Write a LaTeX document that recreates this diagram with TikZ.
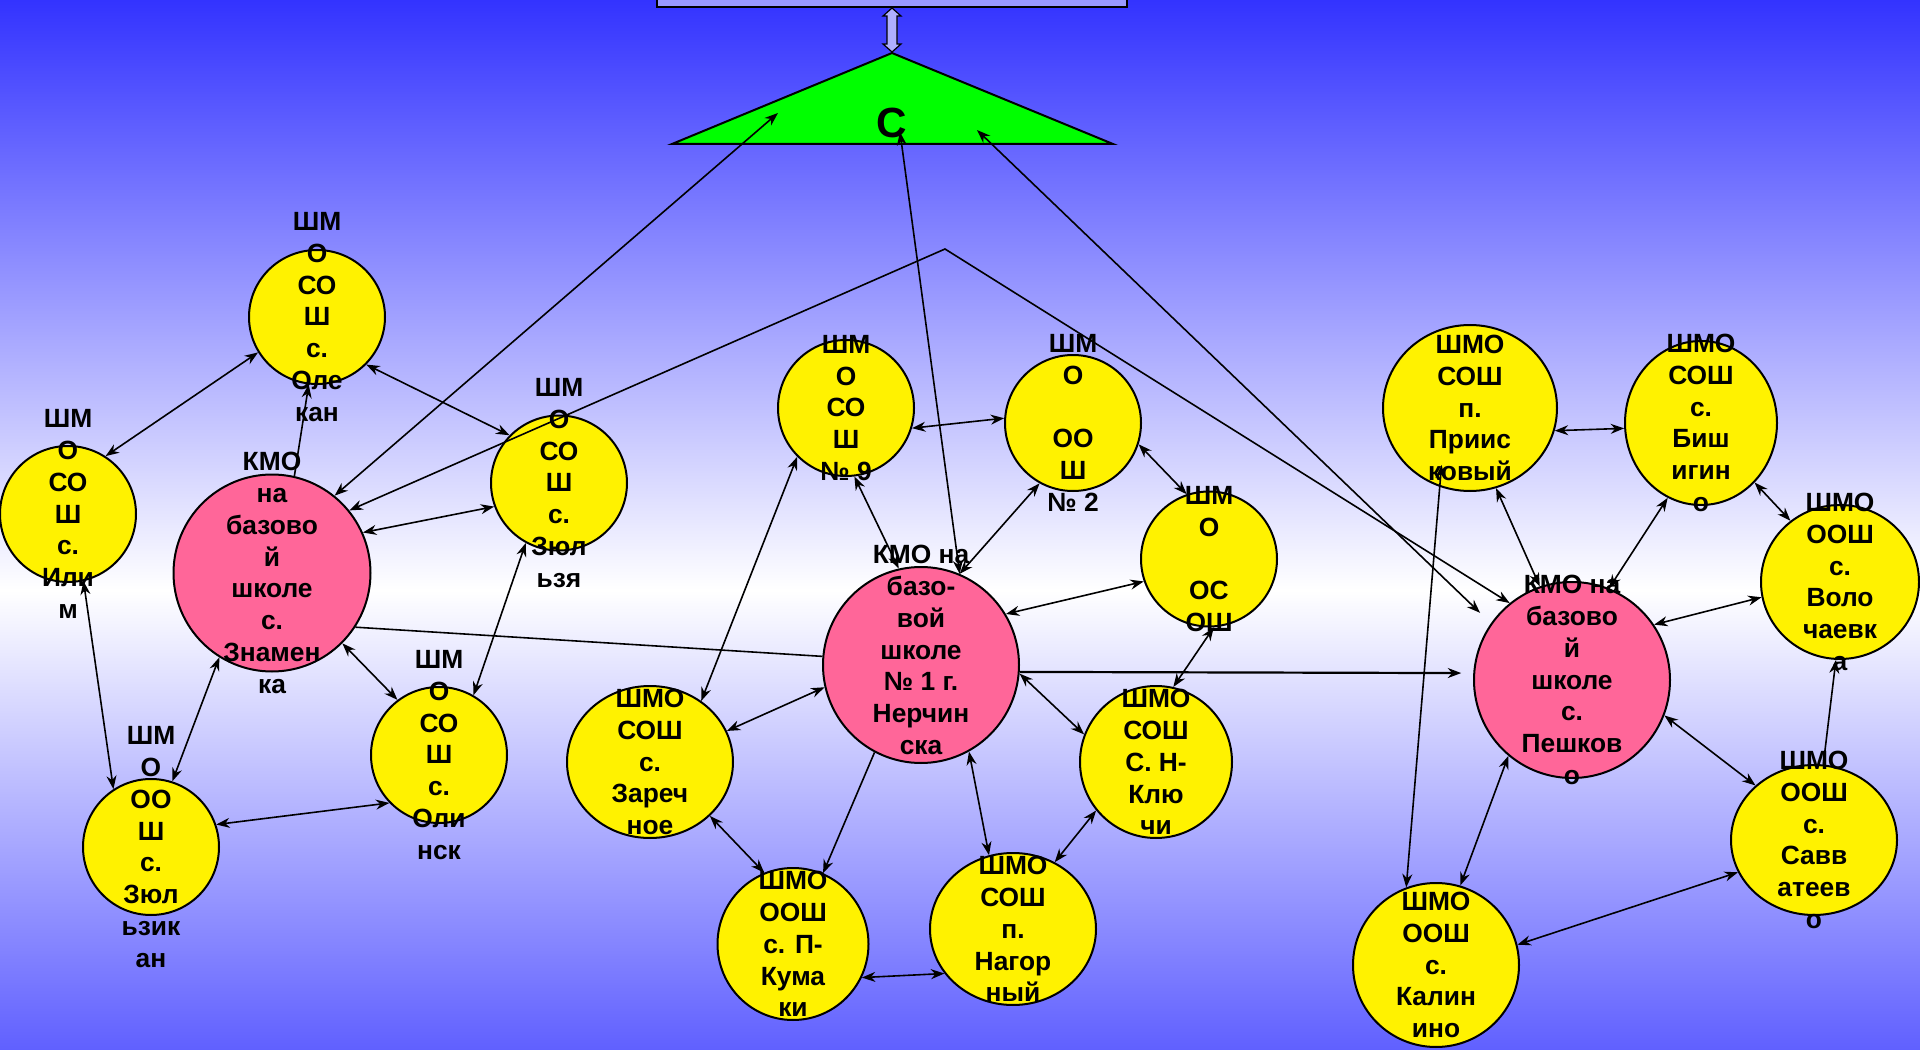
\documentclass[tikz,border=0pt]{standalone}
\usepackage{fontspec}
\setmainfont{Liberation Sans}
\usetikzlibrary{arrows.meta,shapes.geometric}
\definecolor{bgtop}{RGB}{51,51,255}
\definecolor{bgbot}{RGB}{96,96,255}
\definecolor{pinkk}{RGB}{255,102,153}
\definecolor{boxc}{RGB}{153,153,255}
\definecolor{arrc}{RGB}{175,175,255}
\tikzset{
  yel/.style={ellipse, draw=black, line width=0.2mm, fill=yellow, inner sep=0pt},
  pnk/.style={ellipse, draw=black, line width=0.2mm, fill=pinkk, inner sep=0pt},
  lbl/.style={align=center, font=\fontsize{7.5}{9.05}\selectfont\bfseries, inner sep=0pt},
  con/.style={line width=0.16mm, draw=black, >={Stealth[length=1.35mm,width=1mm]}},
}
\begin{document}
\begin{tikzpicture}[x=0.1mm,y=-0.1mm]
\useasboundingbox (0,0) rectangle (1920,1050);
% background
\fill[top color=bgtop, bottom color=white] (0,0) rectangle (1920,590);
\fill[top color=white, bottom color=bgbot] (0,590) rectangle (1920,1050);
% top box
\draw[fill=boxc, line width=0.2mm] (657,-30) rectangle (1127,7);
% hollow double arrow
\draw[fill=arrc, line width=0.12mm] (892,8) -- (901,16) -- (897,16) -- (897,44) -- (901,44) -- (892,52) -- (883,44) -- (887,44) -- (887,16) -- (883,16) -- cycle;
% triangle
\draw[fill=green, line width=0.2mm] (672,144) -- (892,53) -- (1113,144) -- cycle;
\node[font=\fontsize{12}{14}\selectfont\bfseries, inner sep=0pt] (tri-t) at (892,123) {С};
\coordinate (tL) at (778,113);
\coordinate (tC) at (900,132);
\coordinate (tR) at (977,130);
\coordinate (peak) at (945,249);
% ellipses
\node[yel, minimum width=13.6mm, minimum height=13.4mm] (olek) at (317,317) {};
\node[yel, minimum width=13.6mm, minimum height=13.6mm] (ilim) at (68,514) {};
\node[pnk, minimum width=19.7mm, minimum height=19.7mm] (znam) at (272,573) {};
\node[yel, minimum width=13.6mm, minimum height=13.5mm] (zyulz) at (559,483) {};
\node[yel, minimum width=13.6mm, minimum height=13.6mm] (zyulk) at (151,847) {};
\node[yel, minimum width=13.6mm, minimum height=13.6mm] (olin) at (439,755) {};
\node[yel, minimum width=13.6mm, minimum height=13.6mm] (n9) at (846,408) {};
\node[yel, minimum width=13.6mm, minimum height=13.6mm] (n2) at (1073,423) {};
\node[yel, minimum width=13.6mm, minimum height=13.5mm] (ososh) at (1209,559) {};
\node[pnk, minimum width=19.6mm, minimum height=19.6mm] (nerch) at (921,665) {};
\node[yel, minimum width=16.6mm, minimum height=15.2mm] (zar) at (650,762) {};
\node[yel, minimum width=15.1mm, minimum height=15.2mm] (kum) at (793,944) {};
\node[yel, minimum width=16.6mm, minimum height=15.2mm] (nag) at (1013,929) {};
\node[yel, minimum width=15.2mm, minimum height=15.2mm] (nkl) at (1156,762) {};
\node[yel, minimum width=17.4mm, minimum height=16.6mm] (pri) at (1470,408) {};
\node[yel, minimum width=15.2mm, minimum height=16.4mm] (bish) at (1701,423) {};
\node[yel, minimum width=15.8mm, minimum height=15.4mm] (vol) at (1840,582) {};
\node[pnk, minimum width=19.6mm, minimum height=19.6mm] (pesh) at (1572,680) {};
\node[yel, minimum width=16.6mm, minimum height=15.0mm] (sav) at (1814,840) {};
\node[yel, minimum width=16.6mm, minimum height=16.4mm] (kal) at (1436,965) {};
% connectors
\draw[con,<->] (ilim.57) -- (olek.211);
\draw[con,<->] (olek.-44) -- (zyulz.136);
\draw[con,->] (znam.77) -- (olek.263);
\draw[con,<->] (znam.51) -- (tL);
\draw[con,<->] (znam.39.5) -- (peak) -- (pesh.129);
\draw[con,<->] (znam.24) -- (zyulz.200);
\draw[con,<->] (zyulz.241.5) -- (olin.60);
\draw[con,<->] (znam.-45) -- (olin.127);
\draw[con,<->] (znam.238) -- (zyulk.72);
\draw[con,<->] (ilim.283) -- (zyulk.123);
\draw[con,<->] (zyulk.19) -- (olin.224);
\draw[con] (znam.-33.5) -- (nerch.175);
\draw[con,->, line width=0.22mm, shorten >=1.2mm] (nerch.-4) -- (pesh.176);
\draw[con,<->] (nerch.67.5) -- (tC);
\draw[con,<->, shorten <=1.5mm] (pesh.145) -- (tR);
\draw[con,<->] (n9.-17.5) -- (n2.176);
\draw[con,<->] (nerch.103.5) -- (n9.277);
\draw[con,<->] (nerch.67.6) -- (n2.241);
\draw[con,<->] (n2.-18.7) -- (ososh.109);
\draw[con,<->] (nerch.31.6) -- (ososh.199);
\draw[con,<->] (ososh.274) -- (nkl.77.5);
\draw[con,<->] (nerch.-5.6) -- (nkl.159);
\draw[con,<->] (nerch.193) -- (zar.22);
\draw[con,<->] (n9.225) -- (zar.50);
\draw[con,->] (nerch.242.7) -- (kum.67);
\draw[con,<->] (zar.-42) -- (kum.112);
\draw[con,<->] (kum.-26) -- (nag.213);
\draw[con,<->] (nerch.-61) -- (nag.108);
\draw[con,<->] (nag.58) -- (nkl.219);
\draw[con,<->] (pri.-15) -- (bish.184);
\draw[con,<->] (pri.288) -- (pesh.109);
\draw[con,<->] (bish.246) -- (pesh.68);
\draw[con,<->] (bish.-48.6) -- (vol.129);
\draw[con,<->] (pesh.34.5) -- (vol.191);
\draw[con,->] (sav.83) -- (vol.267);
\draw[con,<->] (pesh.-21) -- (sav.137);
\draw[con,<->] (pesh.230) -- (kal.73.7);
\draw[con,<->] (kal.14.5) -- (sav.203.5);
\draw[con,<->, shorten <=-2.2mm] (pri.249) -- (kal.111);
% texts
\node[lbl] (olek-t) at (olek) {ШМ\\О\\СО\\Ш\\с.\\Оле\\кан};
\node[lbl] (ilim-t) at (ilim) {ШМ\\О\\СО\\Ш\\с.\\Или\\м};
\node[lbl] (znam-t) at (znam) {КМО\\на\\базово\\й\\школе\\с.\\Знамен\\ка};
\node[lbl] (zyulz-t) at (zyulz) {ШМ\\О\\СО\\Ш\\с.\\Зюл\\ьзя};
\node[lbl] (zyulk-t) at (zyulk) {ШМ\\О\\ОО\\Ш\\с.\\Зюл\\ьзик\\ан};
\node[lbl] (olin-t) at (olin) {ШМ\\О\\СО\\Ш\\с.\\Оли\\нск};
\node[lbl] (n9-t) at (n9) {ШМ\\О\\СО\\Ш\\№ 9};
\node[lbl] (n2-t) at (n2) {ШМ\\О\\\mbox{}\\ОО\\Ш\\№ 2};
\node[lbl] (ososh-t) at (ososh) {ШМ\\О\\\mbox{}\\ОС\\ОШ};
\node[lbl] (nerch-t) at (921,650) {КМО на\\базо-\\вой\\школе\\№ 1 г.\\Нерчин\\ска};
\node[lbl] (zar-t) at (zar) {ШМО\\СОШ\\с.\\Зареч\\ное};
\node[lbl] (kum-t) at (kum) {ШМО\\ООШ\\с. П-\\Кума\\ки};
\node[lbl] (nag-t) at (nag) {ШМО\\СОШ\\п.\\Нагор\\ный};
\node[lbl] (nkl-t) at (nkl) {ШМО\\СОШ\\С. Н-\\Клю\\чи};
\node[lbl] (pri-t) at (pri) {ШМО\\СОШ\\п.\\Приис\\ковый};
\node[lbl] (bish-t) at (bish) {ШМО\\СОШ\\с.\\Биш\\игин\\о};
\node[lbl] (vol-t) at (vol) {ШМО\\ООШ\\с.\\Воло\\чаевк\\а};
\node[lbl] (pesh-t) at (pesh) {КМО на\\базово\\й\\школе\\с.\\Пешков\\о};
\node[lbl] (sav-t) at (sav) {ШМО\\ООШ\\с.\\Савв\\атеев\\о};
\node[lbl] (kal-t) at (kal) {ШМО\\ООШ\\с.\\Калин\\ино};
\end{tikzpicture}
\end{document}
